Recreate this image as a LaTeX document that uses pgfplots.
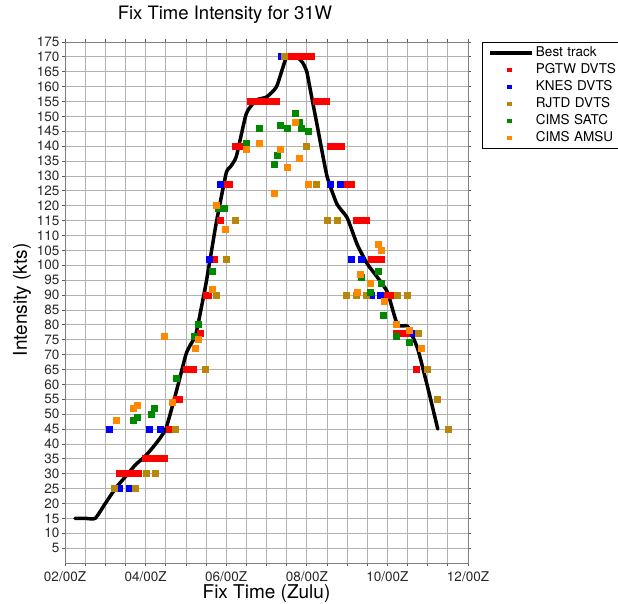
\documentclass[border=0pt]{standalone}
\usepackage{fontspec}
\setmainfont{TeX Gyre Heros}
\usepackage{pgfplots}
\pgfplotsset{compat=1.18}
\definecolor{pgtw}{RGB}{255,0,0}
\definecolor{knes}{RGB}{0,0,255}
\definecolor{rjtd}{RGB}{184,134,11}
\definecolor{satc}{RGB}{0,136,0}
\definecolor{amsu}{RGB}{255,136,0}
\definecolor{gridgray}{RGB}{178,178,178}
\begin{document}
\begin{tikzpicture}[x=1pt,y=1pt]
\useasboundingbox (0,0) rectangle (618,604);
\begin{axis}[
  at={(65pt,41pt)}, anchor=south west,
  scale only axis, width=403pt, height=521pt,
  xmin=2, xmax=12, ymin=0, ymax=175,
  xtick={2,4,6,8,10,12},
  xticklabels={02/00Z,04/00Z,06/00Z,08/00Z,10/00Z,12/00Z},
  minor xtick={2.5,3,3.5,4.5,5,5.5,6.5,7,7.5,8.5,9,9.5,10.5,11,11.5},
  ytick={5,10,...,175},
  grid=both,
  major grid style={gridgray, line width=0.8pt},
  minor grid style={gridgray, line width=0.8pt},
  axis line style={gray, line width=0.9pt},
  tick align=outside,
  major tick length=3pt, minor tick length=3pt,
  tick style={gray!70!black, line width=0.8pt},
  /pgf/number format/assume math mode=true,
  ticklabel style={font=\fontsize{13.5}{16}\selectfont, text=black!85},
  yticklabel style={xshift=1pt},
  xticklabel style={yshift=-2pt},
  title={Fix Time Intensity for 31W},
  title style={at={(axis description cs:0.397,1.040)}, anchor=center, font=\fontsize{18.5}{22}\selectfont},
  xlabel={Fix Time (Zulu)},
  xlabel style={at={(axis description cs:0.5,-0.0595)}, anchor=center, font=\fontsize{19}{22}\selectfont},
  ylabel={Intensity (kts)},
  ylabel style={at={(axis description cs:-0.1067,0.505)}, anchor=center, font=\fontsize{19}{22}\selectfont},
  legend style={at={(axis description cs:1.0347,1)}, anchor=north west, draw=black, line width=1pt,
    font=\fontsize{13.5}{16}\selectfont, inner xsep=6pt, inner ysep=2pt, row sep=0pt,
    nodes={inner sep=2pt, text height=10pt, text depth=3pt, text width=80pt, align=left}},
  legend cell align=left,
  every axis plot/.append style={mark size=3pt},
]
\addplot[black, line width=3.5pt, line join=round, line cap=round, smooth, tension=0.3,
  legend image code/.code={\draw[black, line width=3.5pt, line cap=butt] (0pt,0pt) -- (42pt,0pt);}]
  coordinates {
  (2.25,15) (2.5,15) (2.75,15) (3.0,20) (3.25,25) (3.5,29) (3.75,33) (4.0,36)
  (4.25,40) (4.5,45) (4.75,57) (5.0,70) (5.1,73) (5.25,77) (5.5,94) (5.75,114)
  (6.0,131) (6.1,133) (6.25,136.5) (6.5,151) (6.75,155.5) (7.0,156.5) (7.25,160)
  (7.5,170) (7.75,170) (7.9,168) (8.0,165) (8.1,158) (8.25,147.5) (8.5,130) (8.75,120.5)
  (9.0,116) (9.25,107) (9.5,100.5) (9.75,96) (10.0,91) (10.25,80) (10.5,79.5)
  (10.75,72) (11.0,59) (11.25,45)
  };
\addlegendentry{Best track}
\addplot[only marks, mark=square*, mark options={pgtw, line width=0pt},
  legend image code/.code={\path[draw=none, fill=none] (0pt,0pt) -- (42pt,0pt); \fill[pgtw, draw=none] (17pt,-2.2pt) rectangle (21.4pt,2.2pt);}]
  coordinates {
  (3.35,30) (3.43,30) (3.51,30) (3.59,30) (3.67,30) (3.75,30) (3.83,30)
  (4.00,35) (4.08,35) (4.16,35) (4.24,35) (4.32,35) (4.40,35) (4.48,35)
  (4.6,45)
  (4.76,55) (4.83,55)
  (5.01,65) (5.08,65) (5.14,65) (5.20,65)
  (5.35,77)
  (5.50,90) (5.57,90)
  (5.72,102)
  (5.85,115)
  (5.98,127) (6.04,127) (6.09,127)
  (6.23,140) (6.31,140) (6.39,140) (6.47,140) (6.50,140)
  (6.60,155) (6.68,155) (6.76,155) (6.84,155) (6.92,155) (7.00,155) (7.08,155) (7.16,155) (7.25,155)
  (7.57,170) (7.65,170) (7.73,170) (7.81,170) (7.89,170) (7.97,170) (8.05,170) (8.11,170)
  (8.23,155) (8.31,155) (8.39,155) (8.49,155)
  (8.60,140) (8.68,140) (8.76,140) (8.86,140)
  (8.98,127) (9.10,127)
  (9.24,115) (9.32,115) (9.40,115) (9.48,115)
  (9.60,102) (9.68,102) (9.76,102) (9.85,102)
  (9.97,90) (10.09,90)
  (10.23,77) (10.31,77) (10.39,77) (10.47,77) (10.56,77)
  (10.71,65)
  };
\addlegendentry{PGTW DVTS}
\addplot[only marks, mark=square*, mark options={knes, line width=0pt},
  legend image code/.code={\path[draw=none, fill=none] (0pt,0pt) -- (42pt,0pt); \fill[knes, draw=none] (17pt,-2.2pt) rectangle (21.4pt,2.2pt);}]
  coordinates {
  (3.10,45) (4.09,45) (4.36,45) (3.34,25) (3.60,25) (5.58,102) (5.85,127)
  (7.38,170) (8.59,127) (8.84,127) (9.10,102) (9.36,102) (9.61,90) (9.83,90) (10.64,77)
  };
\addlegendentry{KNES DVTS}
\addplot[only marks, mark=square*, mark options={rjtd, line width=0pt},
  legend image code/.code={\path[draw=none, fill=none] (0pt,0pt) -- (42pt,0pt); \fill[rjtd, draw=none] (17pt,-2.2pt) rectangle (21.4pt,2.2pt);}]
  coordinates {
  (3.22,25) (3.76,25) (4.01,30) (4.24,30) (4.75,45) (5.49,65) (5.76,90) (6.0,102)
  (6.24,115) (7.45,170) (8.0,140) (8.25,127) (8.51,115) (8.76,115)
  (8.99,90) (9.24,90) (9.49,90) (10.26,90) (10.5,90) (10.77,77) (11.0,65) (11.25,55) (11.51,45)
  };
\addlegendentry{RJTD DVTS}
\addplot[only marks, mark=square*, mark options={satc, line width=0pt},
  legend image code/.code={\path[draw=none, fill=none] (0pt,0pt) -- (42pt,0pt); \fill[satc, draw=none] (17pt,-2.2pt) rectangle (21.4pt,2.2pt);}]
  coordinates {
  (3.71,48) (3.79,49) (4.15,50) (4.23,52) (4.77,62) (5.21,76) (5.31,80) (5.66,98)
  (5.82,119) (5.97,119) (6.51,141) (6.82,146) (7.19,134) (7.28,137) (7.34,147)
  (7.52,146) (7.72,151) (7.81,148) (7.87,146) (8.04,145)
  (9.36,96) (9.57,91) (9.77,98) (9.86,94) (9.9,83) (10.23,76) (10.56,74)
  };
\addlegendentry{CIMS SATC}
\addplot[only marks, mark=square*, mark options={amsu, line width=0pt},
  legend image code/.code={\path[draw=none, fill=none] (0pt,0pt) -- (42pt,0pt); \fill[amsu, draw=none] (17pt,-2.2pt) rectangle (21.4pt,2.2pt);}]
  coordinates {
  (3.27,48) (3.70,52) (3.79,53) (4.46,76) (4.67,54) (5.23,72) (5.31,75) (5.66,92)
  (5.76,120) (5.99,112) (6.51,139) (6.82,141) (7.19,124) (7.34,139) (7.52,133)
  (7.71,148) (7.81,136) (8.04,127)
  (9.25,91) (9.34,97) (9.57,94) (9.77,107) (9.86,105) (9.92,88) (10.23,80) (10.56,78) (10.85,72)
  };
\addlegendentry{CIMS AMSU}
\end{axis}
\end{tikzpicture}
\end{document}
